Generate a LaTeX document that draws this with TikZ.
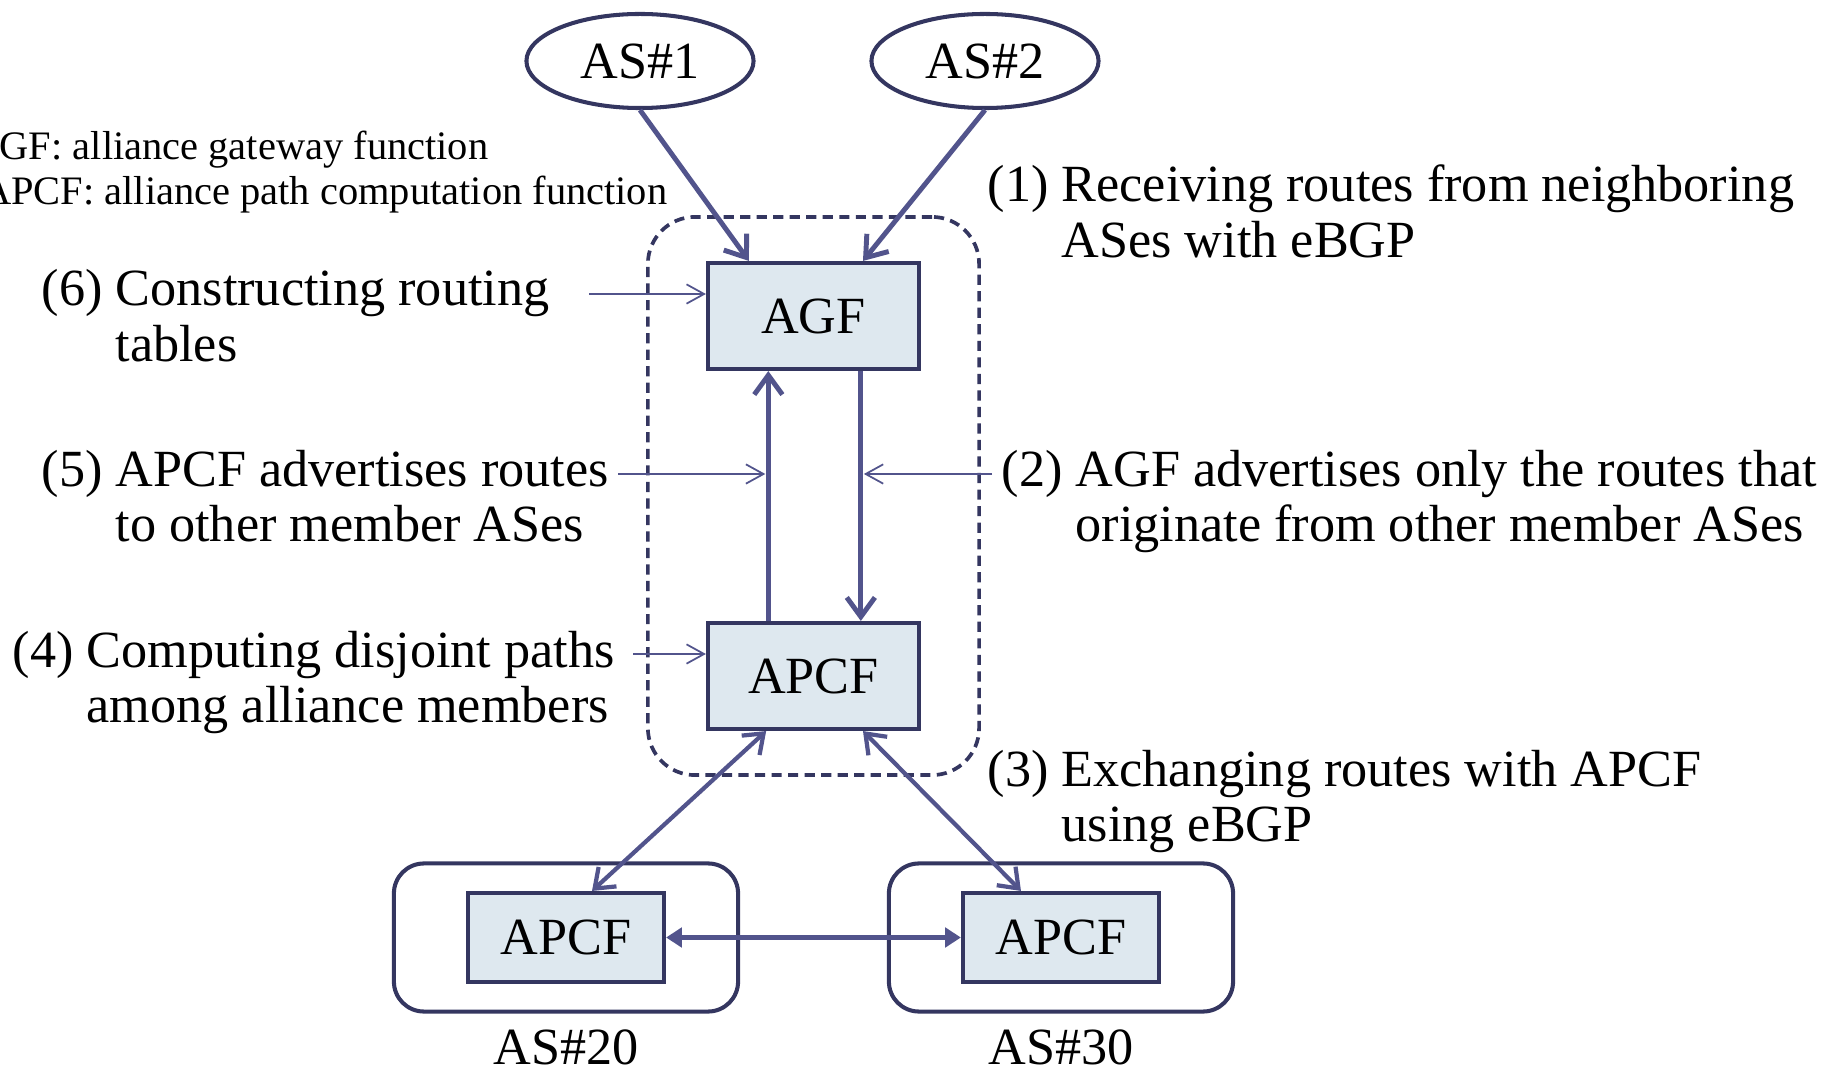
\documentclass[tikz,border=0pt]{standalone}
\usepackage{fontspec}
\setmainfont{Liberation Serif}
\usepackage{xcolor}
\usetikzlibrary{calc,shapes,arrows.meta,fit,positioning}

\definecolor{linecol}{RGB}{82,84,140}
\definecolor{boxcol}{RGB}{52,54,96}
\definecolor{fillcol}{RGB}{222,232,239}

\tikzset{
  fn/.style={draw=boxcol,line width=1.15pt,fill=fillcol,minimum width=2.11cm,minimum height=1.06cm,inner sep=0pt,font=\fontsize{14.85pt}{15.9pt}\selectfont},
  asell/.style={ellipse,draw=boxcol,line width=1.15pt,minimum width=2.27cm,minimum height=0.94cm,inner sep=0pt,font=\fontsize{14.85pt}{15.9pt}\selectfont},
  asframe/.style={draw=boxcol,line width=1.15pt,rounded corners=0.3cm,minimum width=3.44cm,minimum height=1.48cm},
  flow/.style={draw=linecol,line width=1.4pt,-{Straight Barb[length=5.5pt,width=8pt]}},
  twoway/.style={draw=linecol,line width=1.2pt,{Straight Barb[length=5pt,width=7.5pt]}-{Straight Barb[length=5pt,width=7.5pt]}},
  hline/.style={draw=linecol,line width=1.4pt,{Triangle[length=4.5pt,width=5.5pt]}-{Triangle[length=4.5pt,width=5.5pt]}},
  hint/.style={draw=linecol,line width=0.5pt,-{Straight Barb[length=5pt,width=5.5pt]}},
  steptxt/.style={font=\fontsize{14.85pt}{15.9pt}\selectfont,inner sep=0pt,anchor=base west},
  legtxt/.style={font=\fontsize{11.5pt}{13pt}\selectfont,inner sep=0pt,anchor=base east},
  lbl/.style={font=\fontsize{14.85pt}{15.9pt}\selectfont,inner sep=0pt},
}

\begin{document}
\begin{tikzpicture}[x=0.01cm,y=-0.01cm]
        \useasboundingbox (0,0) rectangle (1835,1070);

        %nodes
        \node[asell] (as1) at (640,61) {AS\#1};
        \node[asell] (as2) at (985,61) {AS\#2};
        \node[fn] (agf) at (813.5,316) {AGF};
        \node[fn] (apcf) at (813.5,676) {APCF};
        \node[draw=boxcol,line width=1.05pt,dash pattern=on 2.9pt off 1.8pt,rounded corners=0.47cm,fit=(agf)(apcf),inner xsep=0.58cm,inner ysep=0.44cm] (alliance) {};

        \node[fn,minimum width=1.96cm,minimum height=0.89cm] (a20) at (566,937.5) {APCF};
        \node[fn,minimum width=1.96cm,minimum height=0.89cm] (a30) at (1061,937.5) {APCF};
        \node[asframe] (as20) at (a20) {};
        \node[asframe] (as30) at (a30) {};
        \node[lbl,below=0.15cm of as20] (l20) {AS\#20};
        \node[lbl,below=0.15cm of as30] (l30) {AS\#30};

        %texts
        \node[legtxt] (leg1) at (489,160) {AGF: alliance gateway function};
        \node[legtxt] (leg2) at (668,205) {APCF: alliance path computation function};
        \node[steptxt] (s1) at (987,202) {\begin{tabular}[t]{@{}l@{ }l@{}}(1)&Receiving routes from neighboring\\&ASes with eBGP\end{tabular}};
        \node[steptxt] (s2) at (1001,486) {\begin{tabular}[t]{@{}l@{ }l@{}}(2)&AGF advertises only the routes that\\&originate from other member ASes\end{tabular}};
        \node[steptxt] (s3) at (987,786) {\begin{tabular}[t]{@{}l@{ }l@{}}(3)&Exchanging routes with APCF\\&using eBGP\end{tabular}};
        \node[steptxt] (s4) at (12,667) {\begin{tabular}[t]{@{}l@{ }l@{}}(4)&Computing disjoint paths\\&among alliance members\end{tabular}};
        \node[steptxt] (s5) at (41,486) {\begin{tabular}[t]{@{}l@{ }l@{}}(5)&APCF advertises routes\\&to other member ASes\end{tabular}};
        \node[steptxt] (s6) at (41,306) {\begin{tabular}[t]{@{}l@{ }l@{}}(6)&Constructing routing\\&tables\end{tabular}};

        %arrows
        \coordinate (up0) at ($(apcf.north west)!0.29!(apcf.north east)$);
        \coordinate (dn0) at ($(agf.south west)!0.72!(agf.south east)$);
        \draw[flow] (as1.south) -- ($(agf.north west)!0.2!(agf.north east)$);
        \draw[flow] (as2.south) -- ($(agf.north west)!0.73!(agf.north east)$);
        \draw[flow] (up0) -- ($(agf.south west)!0.29!(agf.south east)$);
        \draw[flow] (dn0) -- ($(apcf.north west)!0.72!(apcf.north east)$);
        \draw[twoway] ($(apcf.south west)!0.28!(apcf.south east)$) -- ($(a20.north west)!0.63!(a20.north east)$);
        \draw[twoway] ($(apcf.south west)!0.73!(apcf.south east)$) -- ($(a30.north west)!0.30!(a30.north east)$);
        \draw[hline] (a20) -- (a30);

        %pointers
        \coordinate (t6) at (589,294);
        \coordinate (t5) at (618,474);
        \coordinate (t4) at (633,654);
        \coordinate (t2) at (992,474);
        \draw[hint] (t6) -- (t6 -| agf.west);
        \draw[hint] (t5) -- ($(up0 |- t5)+(-3,0)$);
        \draw[hint] (t4) -- (t4 -| apcf.west);
        \draw[hint] (t2) -- ($(dn0 |- t2)+(3,0)$);
\end{tikzpicture}
\end{document}
